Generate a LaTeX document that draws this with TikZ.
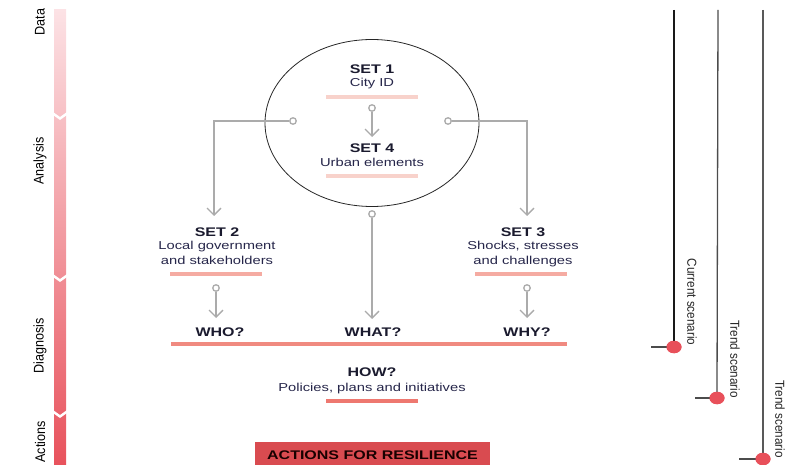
\documentclass[tikz,border=0pt]{standalone}
\usepackage{fontspec}
\setmainfont[FakeStretch=1.28]{Liberation Sans}
\newfontfamily\condfont[FakeStretch=0.9]{Liberation Sans}
\usetikzlibrary{arrows.meta,shapes.geometric}
\definecolor{txt}{HTML}{1A1A2E}
\definecolor{txtb}{HTML}{26264A}
\definecolor{conn}{HTML}{ABABAB}
\definecolor{ulA}{HTML}{F8D2CB}
\definecolor{ulB}{HTML}{F5ABA2}
\definecolor{ulC}{HTML}{F08A80}
\definecolor{ulD}{HTML}{EE7870}
\definecolor{actfill}{HTML}{D94B50}
\definecolor{barTop}{HTML}{FCE2E5}
\definecolor{barBot}{HTML}{E8525C}
\definecolor{dotred}{HTML}{E8505A}
\begin{document}
\begin{tikzpicture}[x=1pt,y=-1pt,
  head/.style={font=\bfseries\fontsize{12.5}{15}\selectfont, text=txt, inner sep=0pt, anchor=base},
  body/.style={font=\fontsize{11.5}{15}\selectfont, text=txtb, inner sep=0pt, anchor=base, align=center},
  sidelbl/.style={font=\condfont\fontsize{14}{16}\selectfont, text=black, inner sep=0pt, rotate=90},
  scenlbl/.style={font=\condfont\fontsize{13}{15}\selectfont, text=black!85, inner sep=0pt, rotate=-90},
  conline/.style={draw=conn, line width=1.3pt},
  conarrow/.style={conline, -{Straight Barb[length=7pt,width=14pt,line width=1.3pt]}},
  knob/.style={circle, draw=conn, line width=1.3pt, fill=white, minimum size=6.5pt, inner sep=0pt},
  ulbar/.style={line width=4pt},
  reddot/.style={ellipse, fill=dotred, minimum width=15pt, minimum height=12.5pt, inner sep=0pt},
  vline/.style={line width=1.3pt}
]
\useasboundingbox (0,0) rectangle (801,465);

% ---- left stage bar ----
\shade[top color=barTop, bottom color=barBot] (54,10) rectangle (66,465);
\foreach \y in {112,274,410}{
  \fill[white] (53,\y) -- (60,\y+5) -- (67,\y) -- (67,\y+3) -- (60,\y+8) -- (53,\y+3) -- cycle;
}
\node[sidelbl] (lData) at (40,22) {Data};
\node[sidelbl] (lAna) at (40,161) {Analysis};
\node[sidelbl] (lDia) at (40,346) {Diagnosis};
\node[sidelbl] (lAct) at (40,442) {Actions};

% ---- big circle ----
\node[ellipse, draw=black!85, line width=0.8pt, minimum width=214pt, minimum height=167pt, inner sep=0pt] (big) at (372,123) {};

\node[head] (set1) at (372,73.5) {SET 1};
\node[body] (city) at (372,87) {City ID};
\draw[ulbar, ulA] (326,97) -- (418,97);
\node[knob] (k1) at (372,108) {};
\coordinate (a1) at (372,137);
\draw[conarrow] (k1.south) -- (a1);
\node[head] (set4) at (372,152.5) {SET 4};
\node[body] (urban) at (372,167) {Urban elements};
\draw[ulbar, ulA] (326,176) -- (418,176);

% side knobs
\node[knob] (kL) at (293,121) {};
\node[knob] (kR) at (448,121) {};
\coordinate (aL) at (214,216);
\coordinate (aR) at (527,216);
\draw[conarrow] (kL.west) -| (aL);
\draw[conarrow] (kR.east) -| (aR);

% ---- SET 2 / SET 3 ----
\node[head] (set2) at (217,236.5) {SET 2};
\node[body] (gov) at (217,265) {Local government\\and stakeholders};
\draw[ulbar, ulB] (170,274) -- (262,274);
\node[head] (set3) at (523,236.5) {SET 3};
\node[body] (shock) at (523,265) {Shocks, stresses\\and challenges};
\draw[ulbar, ulB] (475,274) -- (567,274);

\node[knob] (k2) at (216,288) {};
\node[knob] (k3) at (527,288) {};
\node[knob] (kM) at (372,214) {};
\coordinate (a2) at (216,318);
\coordinate (a3) at (527,318);
\coordinate (aM) at (372,319);
\draw[conarrow] (k2.south) -- (a2);
\draw[conarrow] (k3.south) -- (a3);
\draw[conarrow] (kM.south) -- (aM);

% ---- questions ----
\node[head] (who) at (220,336.5) {WHO?};
\node[head] (what) at (373,336.5) {WHAT?};
\node[head] (why) at (527,336.5) {WHY?};
\draw[line width=4.5pt, ulC] (171,344) -- (567,344);

\node[head] (how) at (372,376.5) {HOW?};
\node[body] (pol) at (372,391) {Policies, plans and initiatives};
\draw[ulbar, ulD] (326,401) -- (418,401);

% ---- actions box ----
\fill[actfill] (255,442) rectangle (490,466);
\node[head, text=black!90!red] (act) at (372.5,459.5) {ACTIONS FOR RESILIENCE};

% ---- scenario lines ----
\node[reddot] (d1) at (674,347) {};
\node[reddot] (d2) at (717,398) {};
\node[reddot] (d3) at (763,459) {};
\coordinate (t1) at (674,10);
\coordinate (t2) at (718,10);
\coordinate (t3) at (763,10);
\coordinate (s1) at (651,347);
\coordinate (s2) at (695,398);
\coordinate (s3) at (739,459);
\draw[vline, black!90] (t1) -- (d1.center);
\draw[vline, black!70] (t2) -- (d2.center);
\draw[vline, black!65] (t3) -- (d3.center);
\draw[vline, black!70] (s1) -- (d1.center);
\draw[vline, black!70] (s2) -- (d2.center);
\draw[vline, black!70] (s3) -- (d3.center);
\node[reddot] at (d1) {};
\node[reddot] at (d2) {};
\node[reddot] at (d3) {};
\node[scenlbl] (cs) at (692,302) {Current scenario};
\node[scenlbl] (ts1) at (735,359) {Trend scenario};
\node[scenlbl] (ts2) at (780,419) {Trend scenario};
\end{tikzpicture}
\end{document}
